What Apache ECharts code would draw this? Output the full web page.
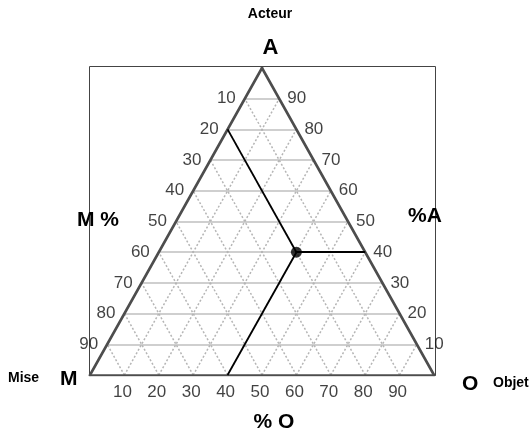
<!DOCTYPE html>
<html>
<head>
<meta charset="utf-8">
<script src="https://cdn.jsdelivr.net/npm/echarts@6/dist/echarts.min.js"></script>
<style>
  html, body { margin: 0; padding: 0; background: #fff; }
  #chart { width: 530px; height: 435px; }
</style>
</head>
<body>
<div id="chart"></div>
<script>
// Ternary diagram: Mise (M) / Objet (O) / Acteur (A), percentages
const gridSteps = [10, 20, 30, 40, 50, 60, 70, 80, 90];
const leftLabels = [90, 80, 70, 60, 50, 40, 30, 20, 10];   // M % read along the left side (bottom to top)
const rightLabels = [10, 20, 30, 40, 50, 60, 70, 80, 90];  // % A read along the right side (bottom to top)
const bottomLabels = [10, 20, 30, 40, 50, 60, 70, 80, 90]; // % O along the base
const samplePoint = { M: 20, O: 40, A: 40 };

// barycentric (O, A) -> cartesian; M is implied as 100 - O - A
function tern(o, a) { return [o + a / 2, a]; }

const FONT = '"Liberation Sans", Arial, sans-serif';

// horizontal guide lines (constant A)
const hLines = gridSteps.map(a => ({ coords: [tern(0, a), tern(100 - a, a)] }));
// diagonal guide lines: constant O and constant M
const dLines = [];
gridSteps.forEach(k => {
  dLines.push({ coords: [tern(k, 0), tern(k, 100 - k)] });
  dLines.push({ coords: [tern(100 - k, 0), tern(0, 100 - k)] });
});

const triangle = [
  { coords: [tern(0, 0), tern(100, 0)] },
  { coords: [tern(100, 0), tern(0, 100)] },
  { coords: [tern(0, 100), tern(0, 0)] }
];

const p = tern(samplePoint.O, samplePoint.A);
const readLines = [
  { coords: [p, tern(0, 100 - samplePoint.M)] },            // constant M up to the left side
  { coords: [p, tern(100 - samplePoint.A, samplePoint.A)] }, // constant A to the right side
  { coords: [p, tern(samplePoint.O, 0)] }                    // constant O down to the base
];

const labelFont = { fontFamily: FONT, fontSize: 17, color: '#111' };

function txt(text, x, y, font, align) {
  return { type: 'text', z: 10, style: { text: text, x: x, y: y, font: font, fill: '#000',
    textAlign: align, textVerticalAlign: 'middle', align: align, verticalAlign: 'middle' } };
}

const chart = echarts.init(document.getElementById('chart'));
chart.setOption({
  animation: false,
  backgroundColor: '#fff',
  grid: { left: 90, top: 68, width: 344, height: 307 },
  xAxis: { type: 'value', min: 0, max: 100, show: false },
  yAxis: { type: 'value', min: 0, max: 100, show: false },
  graphic: [
    { type: 'rect', shape: { x: 89.5, y: 66.5, width: 346, height: 309 },
      style: { fill: 'none', stroke: '#444', lineWidth: 1 }, z: 0 },
    txt('Acteur', 270, 14, 'bold 14px ' + FONT, 'center'),
    txt('A', 270.5, 48, 'bold 22px ' + FONT, 'center'),
    txt('M %', 77, 220, 'bold 21px ' + FONT, 'left'),
    txt('%A', 408, 216, 'bold 21px ' + FONT, 'left'),
    txt('Mise', 8, 378, 'bold 14px ' + FONT, 'left'),
    txt('M', 60, 379, 'bold 21px ' + FONT, 'left'),
    txt('O', 462, 384, 'bold 21px ' + FONT, 'left'),
    txt('Objet', 493, 383, 'bold 14px ' + FONT, 'left'),
    txt('% O', 274, 422, 'bold 21px ' + FONT, 'center')
  ],
  series: [
    { type: 'lines', coordinateSystem: 'cartesian2d', silent: true, z: 1,
      lineStyle: { color: '#cfcfcf', width: 2, opacity: 1 }, data: hLines },
    { type: 'lines', coordinateSystem: 'cartesian2d', silent: true, z: 2,
      lineStyle: { color: '#b5b5b5', width: 1.5, type: [2, 2], opacity: 1 }, data: dLines },
    { type: 'lines', coordinateSystem: 'cartesian2d', silent: true, z: 3,
      lineStyle: { color: '#4d4d4d', width: 2.6, opacity: 1, cap: 'round' }, data: triangle },
    { type: 'lines', coordinateSystem: 'cartesian2d', silent: true, z: 4,
      lineStyle: { color: '#000', width: 1.8, opacity: 1 }, data: readLines },
    { type: 'scatter', silent: true, z: 5, symbolSize: 11,
      itemStyle: { color: '#000' }, data: [p] },
    // side labels
    { type: 'scatter', silent: true, symbolSize: 0,
      data: gridSteps.map((a, i) => ({ value: tern(0, a), label: { formatter: String(leftLabels[i]) } })),
      label: Object.assign({ show: true, position: 'left', distance: 9 }, labelFont) },
    { type: 'scatter', silent: true, symbolSize: 0,
      data: gridSteps.map((a, i) => ({ value: tern(100 - a, a), label: { formatter: String(rightLabels[i]) } })),
      label: Object.assign({ show: true, position: 'right', distance: 8 }, labelFont) },
    { type: 'scatter', silent: true, symbolSize: 0,
      data: bottomLabels.map(o => ({ value: tern(o, 0), label: { formatter: String(o) } })),
      label: Object.assign({ show: true, position: 'bottom', distance: 9, offset: [-2, 0] }, labelFont) }
  ]
});
</script>
</body>
</html>
